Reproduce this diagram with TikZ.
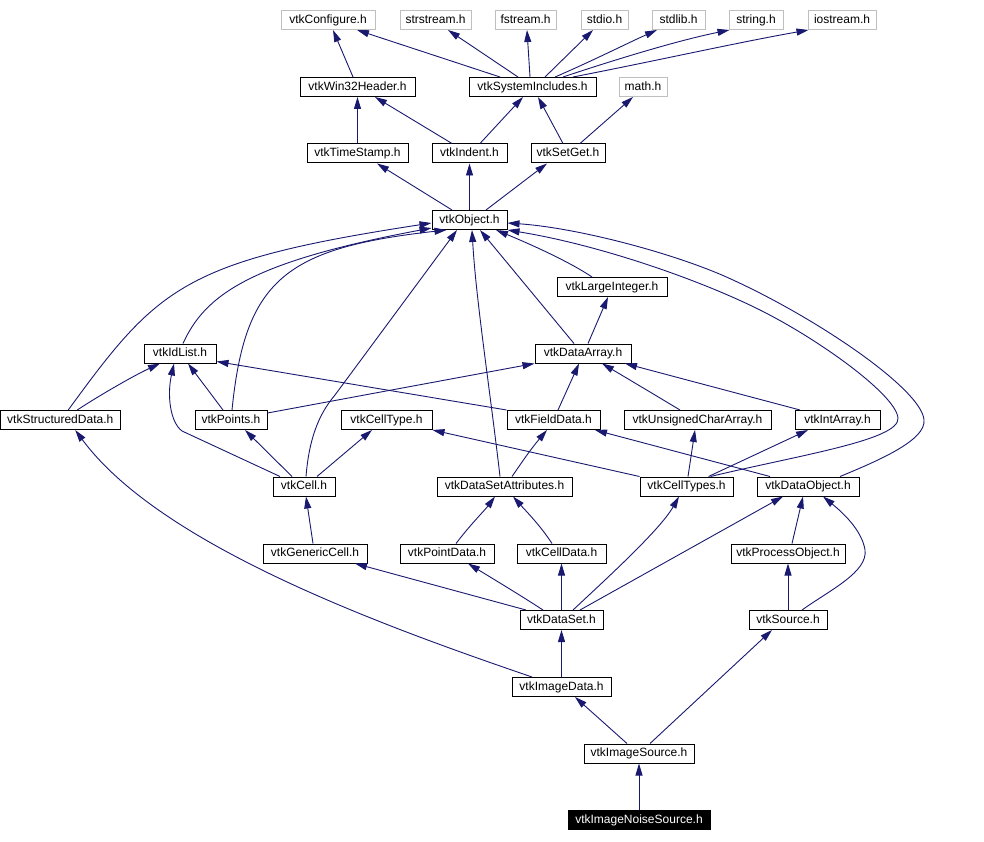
\documentclass[tikz,border=0pt]{standalone}
\usepackage{fontspec}
\setmainfont{Liberation Sans}
\usetikzlibrary{arrows.meta}
\definecolor{edgeblue}{RGB}{25,25,112}
\definecolor{sysgrey}{RGB}{191,191,191}
\tikzset{
  nd/.style={draw=black, fill=white, line width=1pt, inner sep=0pt, minimum height=19pt,
    text height=9pt, text depth=2.5pt, font=\fontsize{12}{14}\selectfont},
  sys/.style={nd, draw=sysgrey},
  cur/.style={nd, fill=black, text=white},
  e/.style={draw=edgeblue, line width=0.9pt, -{Triangle[length=12pt,width=7pt]}},
}
\begin{document}
\begin{tikzpicture}[x=1pt,y=-1pt]
\useasboundingbox[fill=white] (0,0) rectangle (984,842);
% nodes
\node[sys, minimum width=94pt] (conf) at (328,20) {vtkConfigure.h};
\node[sys, minimum width=71pt] (strs) at (435.5,20) {strstream.h};
\node[sys, minimum width=61pt] (fstr) at (525.5,20) {fstream.h};
\node[sys, minimum width=47pt] (stdio) at (604.5,20) {stdio.h};
\node[sys, minimum width=53pt] (stdlib) at (678.5,20) {stdlib.h};
\node[sys, minimum width=54pt] (string) at (756,20) {string.h};
\node[sys, minimum width=68pt] (iostr) at (842,20) {iostream.h};
\node[nd, minimum width=115pt] (win32) at (357.5,87) {vtkWin32Header.h};
\node[nd, minimum width=127pt] (sysinc) at (532.5,87) {vtkSystemIncludes.h};
\node[sys, minimum width=48pt] (math) at (643,87) {math.h};
\node[nd, minimum width=101pt] (tstamp) at (357.5,153.5) {vtkTimeStamp.h};
\node[nd, minimum width=75pt] (indent) at (469.5,153.5) {vtkIndent.h};
\node[nd, minimum width=74pt] (setget) at (568,153.5) {vtkSetGet.h};
\node[nd, minimum width=75pt] (object) at (469.5,220) {vtkObject.h};
\node[nd, minimum width=110pt] (largeint) at (612,287) {vtkLargeInteger.h};
\node[nd, minimum width=72pt] (idlist) at (180,353.5) {vtkIdList.h};
\node[nd, minimum width=96pt] (darray) at (583,353.5) {vtkDataArray.h};
\node[nd, minimum width=119.5pt] (sdata) at (60.25,420) {vtkStructuredData.h};
\node[nd, minimum width=72pt] (points) at (231,420) {vtkPoints.h};
\node[nd, minimum width=91pt] (celltype) at (386.5,420) {vtkCellType.h};
\node[nd, minimum width=93pt] (fdata) at (553.5,420) {vtkFieldData.h};
\node[nd, minimum width=147pt] (ucarray) at (697.5,420) {vtkUnsignedCharArray.h};
\node[nd, minimum width=85pt] (intarray) at (837.5,420) {vtkIntArray.h};
\node[nd, minimum width=62pt] (cell) at (304,486.5) {vtkCell.h};
\node[nd, minimum width=135pt] (dsattr) at (504.5,486.5) {vtkDataSetAttributes.h};
\node[nd, minimum width=93pt] (celltypes) at (686.5,486.5) {vtkCellTypes.h};
\node[nd, minimum width=102pt] (dobject) at (808,486.5) {vtkDataObject.h};
\node[nd, minimum width=104pt] (gcell) at (315,553.5) {vtkGenericCell.h};
\node[nd, minimum width=94pt] (pdata) at (447,553.5) {vtkPointData.h};
\node[nd, minimum width=89pt] (cdata) at (561.5,553.5) {vtkCellData.h};
\node[nd, minimum width=114pt] (pobject) at (788,553.5) {vtkProcessObject.h};
\node[nd, minimum width=83pt] (dataset) at (561.5,620) {vtkDataSet.h};
\node[nd, minimum width=78pt] (source) at (788,620) {vtkSource.h};
\node[nd, minimum width=99pt] (idata) at (561.5,687) {vtkImageData.h};
\node[nd, minimum width=110pt] (isource) at (639,753.5) {vtkImageSource.h};
\node[cur, minimum width=142pt] (noise) at (639,820) {vtkImageNoiseSource.h};
% top edges
\draw[e] ([xshift=-4.5pt]win32.north) -- ([xshift=5pt]conf.south);
\draw[e] ([xshift=-32.5pt]sysinc.north) -- ([xshift=29pt]conf.south);
\draw[e] ([xshift=-14.5pt]sysinc.north) -- ([xshift=12.5pt]strs.south);
\draw[e] ([xshift=-2.5pt]sysinc.north) -- ([xshift=1.5pt]fstr.south);
\draw[e] ([xshift=12.5pt]sysinc.north) -- ([xshift=-11.5pt]stdio.south);
\draw[e] ([xshift=22.5pt]sysinc.north) .. controls (590,62) and (630,42) .. ([xshift=-21.5pt]stdlib.south);
\draw[e] ([xshift=30.5pt]sysinc.north) .. controls (620,58) and (680,40) .. ([xshift=1pt]string.south west);
\draw[e] ([xshift=40.5pt]sysinc.north) .. controls (660,60) and (740,42) .. ([xshift=1pt]iostr.south west);
\draw[e] (tstamp.north) -- (win32.south);
\draw[e] ([xshift=-17.5pt]indent.north) -- ([xshift=17.5pt]win32.south);
\draw[e] ([xshift=10.5pt]indent.north) -- ([xshift=-9.5pt]sysinc.south);
\draw[e] ([xshift=-5pt]setget.north) -- ([xshift=5.5pt]sysinc.south);
\draw[e] ([xshift=12pt]setget.north) -- ([xshift=-10pt]math.south);
\draw[e] ([xshift=-17.5pt]object.north) -- ([xshift=19.5pt]tstamp.south);
\draw[e] (object.north) -- (indent.south);
\draw[e] ([xshift=16.5pt]object.north) -- ([xshift=-21pt]setget.south);
% edges into vtkObject
\draw[e] ([xshift=8pt]sdata.north) .. controls (158,287) and (183,261) .. ([yshift=-3pt]object.west);
\draw[e] ([xshift=3pt]idlist.north) .. controls (205,295) and (250,262) .. ([yshift=-8pt]object.west);
\draw[e] ([xshift=1pt]points.north) .. controls (245,280) and (285,248) .. ([xshift=-23pt]object.south);
\draw[e] ([xshift=2pt]cell.north) .. controls (309,440) and (318,415) .. (335,395) -- ([xshift=-12.5pt]object.south);
\draw[e] ([xshift=-4.5pt]dsattr.north) .. controls (490,390) and (476,300) .. ([xshift=2.5pt]object.south);
\draw[e] ([xshift=-9pt]darray.north) -- ([xshift=10.5pt]object.south);
\draw[e] ([xshift=-20pt]largeint.north) .. controls (570,262) and (530,244) .. ([xshift=26.5pt]object.south);
\draw[e] ([xshift=24pt]celltypes.north) .. controls (800,455) and (900,440) .. (898,418)
  .. controls (896,395) and (820,340) .. (760,310)
  .. controls (700,280) and (600,245) .. (object.south east);
\draw[e] ([xshift=32pt]dobject.north) .. controls (880,460) and (926,440) .. (924,420)
  .. controls (922,390) and (820,320) .. (733,280)
  .. controls (680,255) and (580,228) .. ([yshift=-3pt]object.east);
% middle edges
\draw[e] ([xshift=5pt]darray.north) -- ([xshift=-4pt]largeint.south);
\draw[e] ([xshift=17pt]sdata.north) .. controls (100,395) and (135,375) .. ([xshift=-20pt]idlist.south);
\draw[e] ([xshift=-8pt]points.north) -- ([xshift=8pt]idlist.south);
\draw[e] ([xshift=-24pt]cell.north) -- (182,431) .. controls (170,422) and (167,395) .. ([xshift=-6pt]idlist.south);
\draw[e] (fdata.north west) -- ([yshift=-8pt]idlist.east);
\draw[e] ([yshift=7pt]points.east) -- (darray.south west);
\draw[e] ([xshift=4.5pt]fdata.north) -- ([xshift=-4pt]darray.south);
\draw[e] ([xshift=-17.5pt]ucarray.north) .. controls (660,398) and (630,380) .. ([xshift=19pt]darray.south);
\draw[e] ([xshift=-37.5pt]intarray.north) -- ([xshift=42pt]darray.south);
\draw[e] ([xshift=-12pt]cell.north) -- ([xshift=14pt]points.south);
\draw[e] ([xshift=13pt]cell.north) -- ([xshift=-14.5pt]celltype.south);
\draw[e] (celltypes.north west) -- (celltype.south east);
\draw[e] ([xshift=7.5pt]dsattr.north) .. controls (520,465) and (530,450) .. ([xshift=-6.5pt]fdata.south);
\draw[e] ([xshift=-38pt]dobject.north) -- ([xshift=41.5pt]fdata.south);
\draw[e] ([xshift=1.5pt]celltypes.north) -- ([xshift=-2.5pt]ucarray.south);
\draw[e] ([xshift=22pt]celltypes.north) -- ([xshift=-29.5pt]intarray.south);
% lower edges
\draw[e] ([xshift=-2pt]gcell.north) -- ([xshift=2pt]cell.south);
\draw[e] ([xshift=9pt]pdata.north) .. controls (470,525) and (485,510) .. ([xshift=-9.5pt]dsattr.south);
\draw[e] ([xshift=-9.5pt]cdata.north) .. controls (540,525) and (525,510) .. ([xshift=8.5pt]dsattr.south);
\draw[e] ([xshift=11.5pt]dataset.north) .. controls (605,580) and (660,530) .. ([xshift=-7.5pt]celltypes.south);
\draw[e] ([xshift=18.5pt]dataset.north) -- ([xshift=-25pt]dobject.south);
\draw[e] ([xshift=4pt]pobject.north) -- ([xshift=-5pt]dobject.south);
\draw[e] ([xshift=14pt]source.north) .. controls (830,590) and (868,572) .. (865,550)
  .. controls (862,530) and (842,512) .. ([xshift=15pt]dobject.south);
\draw[e] ([xshift=-35.5pt]dataset.north) -- ([xshift=40pt]gcell.south);
\draw[e] ([xshift=-18.5pt]dataset.north) .. controls (520,595) and (495,580) .. ([xshift=21pt]pdata.south);
\draw[e] (dataset.north) -- (cdata.south);
\draw[e] (source.north) -- (pobject.south);
\draw[e] (idata.north) -- (dataset.south);
\draw[e] ([xshift=-29.5pt]idata.north) .. controls (380,625) and (160,545) .. ([xshift=15pt]sdata.south);
\draw[e] ([xshift=-12pt]isource.north) -- ([xshift=13.5pt]idata.south);
\draw[e] ([xshift=11pt]isource.north) -- ([xshift=-16pt]source.south);
\draw[e] (noise.north) -- (isource.south);
\end{tikzpicture}
\end{document}
